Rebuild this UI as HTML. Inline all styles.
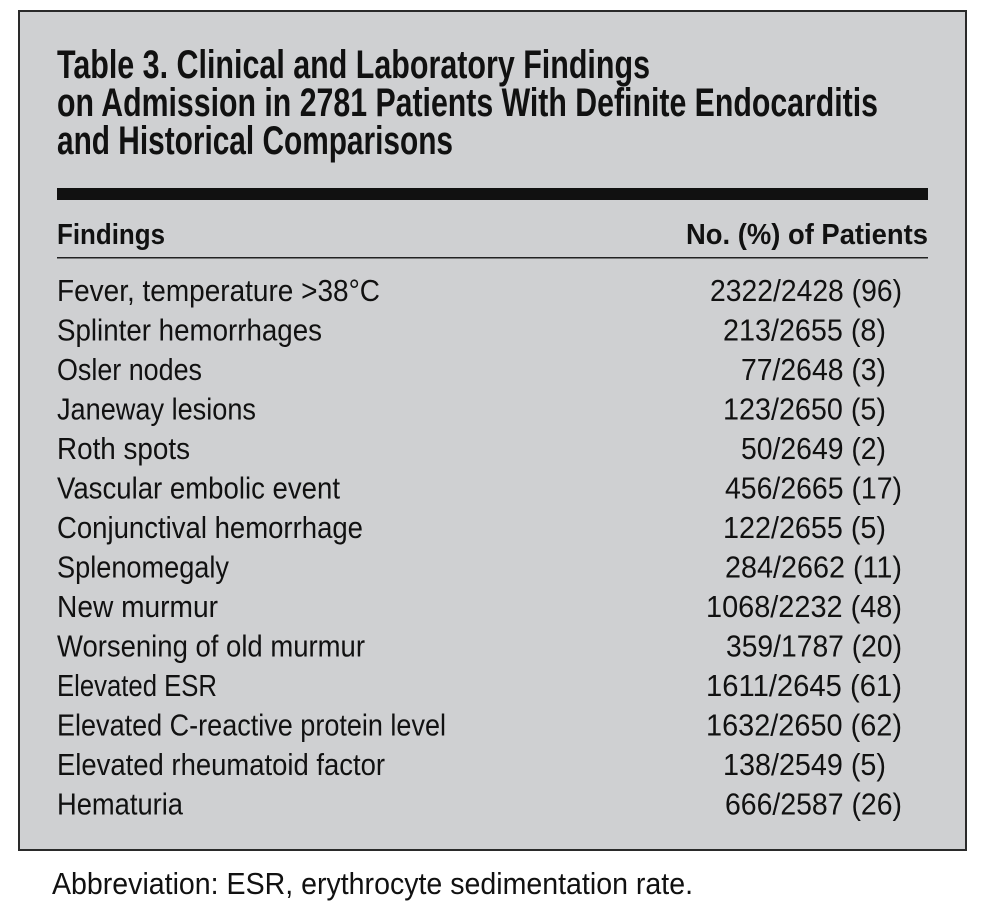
<!DOCTYPE html>
<html><head><meta charset="utf-8"><style>
html,body{margin:0;padding:0;background:#fff;}
svg{display:block;}
text{font-family:"Liberation Sans",sans-serif;fill:#111;}
.t{font-weight:bold;font-size:40px;}
.h{font-weight:bold;font-size:29px;}
.r{font-size:31px;}
</style></head><body>
<svg width="988" height="910" viewBox="0 0 988 910" xmlns="http://www.w3.org/2000/svg">
<rect x="19" y="11" width="947" height="839" fill="#cfd0d2" stroke="#2a2a2a" stroke-width="2"/>
<text class="t" x="57" y="78" textLength="593" lengthAdjust="spacingAndGlyphs">Table 3. Clinical and Laboratory Findings</text>
<text class="t" x="57" y="116" textLength="821" lengthAdjust="spacingAndGlyphs">on Admission in 2781 Patients With Definite Endocarditis</text>
<text class="t" x="57" y="154" textLength="396" lengthAdjust="spacingAndGlyphs">and Historical Comparisons</text>
<rect x="57" y="188" width="871" height="12" fill="#111"/>
<text class="h" x="57" y="244" textLength="108" lengthAdjust="spacingAndGlyphs">Findings</text>
<text class="h" x="686" y="244" textLength="242" lengthAdjust="spacingAndGlyphs">No. (%) of Patients</text>
<rect x="57" y="257" width="871" height="1.5" fill="#222"/>
<g class="r">
<text x="57" y="301" textLength="323" lengthAdjust="spacingAndGlyphs">Fever, temperature &gt;38°C</text>
<text x="710" y="301" textLength="192" lengthAdjust="spacingAndGlyphs">2322/2428 (96)</text>
<text x="57" y="340.5" textLength="265" lengthAdjust="spacingAndGlyphs">Splinter hemorrhages</text>
<text x="723" y="340.5" textLength="163" lengthAdjust="spacingAndGlyphs">213/2655 (8)</text>
<text x="57" y="380" textLength="145" lengthAdjust="spacingAndGlyphs">Osler nodes</text>
<text x="741" y="380" textLength="145" lengthAdjust="spacingAndGlyphs">77/2648 (3)</text>
<text x="57" y="419.5" textLength="199" lengthAdjust="spacingAndGlyphs">Janeway lesions</text>
<text x="723" y="419.5" textLength="163" lengthAdjust="spacingAndGlyphs">123/2650 (5)</text>
<text x="57" y="459" textLength="133" lengthAdjust="spacingAndGlyphs">Roth spots</text>
<text x="741" y="459" textLength="145" lengthAdjust="spacingAndGlyphs">50/2649 (2)</text>
<text x="57" y="498.5" textLength="283" lengthAdjust="spacingAndGlyphs">Vascular embolic event</text>
<text x="725" y="498.5" textLength="177" lengthAdjust="spacingAndGlyphs">456/2665 (17)</text>
<text x="57" y="538" textLength="306" lengthAdjust="spacingAndGlyphs">Conjunctival hemorrhage</text>
<text x="723" y="538" textLength="163" lengthAdjust="spacingAndGlyphs">122/2655 (5)</text>
<text x="57" y="577.5" textLength="172" lengthAdjust="spacingAndGlyphs">Splenomegaly</text>
<text x="725" y="577.5" textLength="177" lengthAdjust="spacingAndGlyphs">284/2662 (11)</text>
<text x="57" y="617" textLength="161" lengthAdjust="spacingAndGlyphs">New murmur</text>
<text x="706" y="617" textLength="196" lengthAdjust="spacingAndGlyphs">1068/2232 (48)</text>
<text x="57" y="656.5" textLength="308" lengthAdjust="spacingAndGlyphs">Worsening of old murmur</text>
<text x="726" y="656.5" textLength="176" lengthAdjust="spacingAndGlyphs">359/1787 (20)</text>
<text x="57" y="696" textLength="160" lengthAdjust="spacingAndGlyphs">Elevated ESR</text>
<text x="706" y="696" textLength="196" lengthAdjust="spacingAndGlyphs">1611/2645 (61)</text>
<text x="57" y="735.5" textLength="389" lengthAdjust="spacingAndGlyphs">Elevated C-reactive protein level</text>
<text x="706" y="735.5" textLength="196" lengthAdjust="spacingAndGlyphs">1632/2650 (62)</text>
<text x="57" y="775" textLength="328" lengthAdjust="spacingAndGlyphs">Elevated rheumatoid factor</text>
<text x="723" y="775" textLength="163" lengthAdjust="spacingAndGlyphs">138/2549 (5)</text>
<text x="57" y="814.5" textLength="126" lengthAdjust="spacingAndGlyphs">Hematuria</text>
<text x="725" y="814.5" textLength="177" lengthAdjust="spacingAndGlyphs">666/2587 (26)</text>
</g>
<text class="r" x="52" y="894" textLength="641" lengthAdjust="spacingAndGlyphs">Abbreviation: ESR, erythrocyte sedimentation rate.</text>
</svg>
</body></html>
